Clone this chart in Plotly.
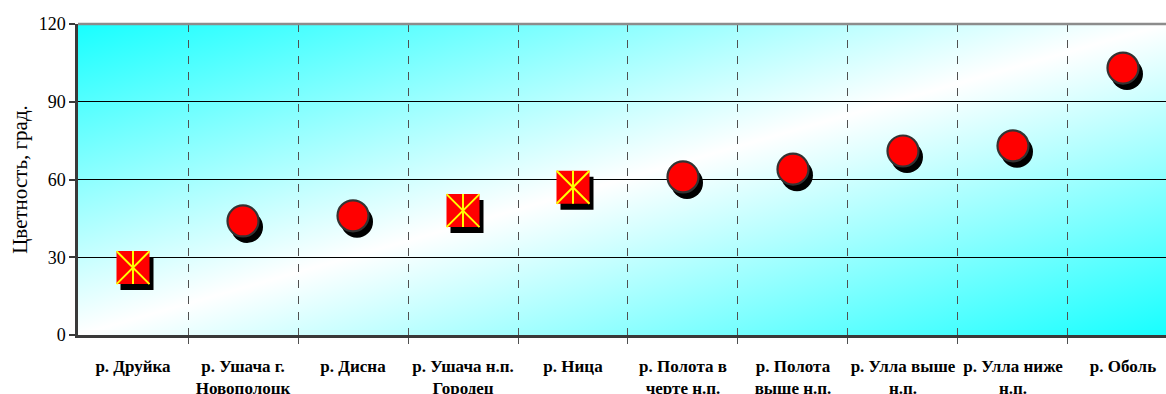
import base64
import plotly.graph_objects as go

# Sampling stations (category axis) and water colour, degrees
stations = [
    "р. Друйка",
    "р. Ушача г.<br>Новополоцк",
    "р. Дисна",
    "р. Ушача н.п.<br>Городец",
    "р. Ница",
    "р. Полота в<br>черте н.п.",
    "р. Полота<br>выше н.п.",
    "р. Улла выше<br>н.п.",
    "р. Улла ниже<br>н.п.",
    "р. Оболь",
]
colour_deg = [26, 44, 46, 48, 57, 61, 64, 71, 73, 103]
# marker style per station: "sq" = crossed square, "dot" = round marker
marker_kind = ["sq", "dot", "dot", "sq", "sq", "dot", "dot", "dot", "dot", "dot"]

y_ticks = [0, 30, 60, 90, 120]

SERIF = "Times New Roman, Liberation Serif, serif"

# plot-area geometry (pixels) used to turn the drop-shadow offset into data units
W, H = 1166, 394
M_L, M_R, M_T, M_B = 78, 0, 24, 59
X_RANGE = [-0.5, 9.391]
Y_RANGE = [0, 120]
px_x = (W - M_L - M_R) / (X_RANGE[1] - X_RANGE[0])
px_y = (H - M_T - M_B) / (Y_RANGE[1] - Y_RANGE[0])
SHADOW_DX = 4 / px_x
SHADOW_DY = 6 / px_y

idx = list(range(len(stations)))
sq_x = [i for i in idx if marker_kind[i] == "sq"]
sq_y = [colour_deg[i] for i in sq_x]
dot_x = [i for i in idx if marker_kind[i] == "dot"]
dot_y = [colour_deg[i] for i in dot_x]

fig = go.Figure()

# drop shadows
fig.add_trace(go.Scatter(
    x=[v + SHADOW_DX for v in sq_x], y=[v - SHADOW_DY for v in sq_y],
    mode="markers", hoverinfo="skip",
    marker=dict(symbol="square", size=33, color="black", line=dict(width=0)),
))
fig.add_trace(go.Scatter(
    x=[v + SHADOW_DX for v in dot_x], y=[v - SHADOW_DY for v in dot_y],
    mode="markers", hoverinfo="skip",
    marker=dict(symbol="circle", size=32, color="black", line=dict(width=0)),
))

# crossed red squares
fig.add_trace(go.Scatter(
    x=sq_x, y=sq_y, mode="markers",
    marker=dict(symbol="square", size=33, color="#ff0000", line=dict(width=0)),
))
fig.add_trace(go.Scatter(
    x=sq_x, y=sq_y, mode="markers", hoverinfo="skip",
    marker=dict(symbol="x-thin", size=33, line=dict(width=2, color="#ffff00")),
))
fig.add_trace(go.Scatter(
    x=sq_x, y=sq_y, mode="markers", hoverinfo="skip",
    marker=dict(symbol="line-ns", size=33 / 1.4, line=dict(width=2, color="#ffff00")),
))

# red round markers
fig.add_trace(go.Scatter(
    x=dot_x, y=dot_y, mode="markers",
    marker=dict(symbol="circle", size=31, color="#ff0000",
                line=dict(width=2.2, color="#333333")),
))

# diagonal cyan-white-cyan fill of the plot area
svg = (
    '<svg xmlns="http://www.w3.org/2000/svg" width="100" height="100" '
    'viewBox="0 0 100 100" preserveAspectRatio="none">'
    '<defs><linearGradient id="g" x1="0" y1="0" x2="1" y2="1">'
    '<stop offset="0" stop-color="#18ffff"/>'
    '<stop offset="0.5" stop-color="#ffffff"/>'
    '<stop offset="1" stop-color="#18ffff"/>'
    '</linearGradient></defs>'
    '<rect width="100" height="100" fill="url(#g)"/></svg>'
)
bg_uri = "data:image/svg+xml;base64," + base64.b64encode(svg.encode()).decode()

fig.update_layout(
    width=W, height=H,
    margin=dict(l=M_L, r=M_R, t=M_T, b=M_B),
    paper_bgcolor="white",
    plot_bgcolor="rgba(0,0,0,0)",
    showlegend=False,
    font=dict(family=SERIF, color="black"),
    images=[dict(
        source=bg_uri, xref="paper", yref="paper", x=0, y=1,
        sizex=1, sizey=1, xanchor="left", yanchor="top",
        sizing="stretch", layer="below",
    )],
    shapes=[dict(
        type="line", xref="paper", yref="paper", x0=0, x1=1, y0=1, y1=1,
        line=dict(color="#8c8c8c", width=2.5),
    )],
)

fig.update_xaxes(
    range=X_RANGE, automargin=False,
    tickmode="array", tickvals=idx, ticktext=[f"<b>{s}</b>" for s in stations],
    ticks="", showgrid=False, zeroline=False,
    tickfont=dict(family=SERIF, size=17, color="black"),
    ticklabelstandoff=14,
    showline=True, linecolor="#3a3a3a", linewidth=2.5,
    minor=dict(
        tickmode="array", tickvals=[i + 0.5 for i in idx[:-1]],
        ticks="outside", ticklen=6, tickcolor="#505050", tickwidth=1.3,
        showgrid=True, gridcolor="#505050", gridwidth=1.3, griddash="8px,8px",
    ),
)

fig.update_yaxes(
    range=Y_RANGE, automargin=False, tickmode="array", tickvals=y_ticks,
    ticks="outside", ticklen=6, tickcolor="#3a3a3a", tickwidth=1.5,
    showgrid=True, gridcolor="black", gridwidth=1.2,
    zeroline=False,
    showline=True, linecolor="#3a3a3a", linewidth=2.5,
    tickfont=dict(family=SERIF, size=18, color="black"),
    title=dict(text="Цветность, град.", font=dict(family=SERIF, size=21, color="black"),
               standoff=6),
)

fig.write_html("out.html")
